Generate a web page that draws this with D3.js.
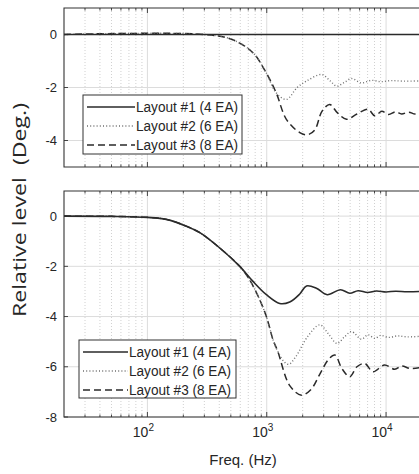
<!DOCTYPE html>
<html>
<head>
<meta charset="utf-8">
<script src="https://cdn.jsdelivr.net/npm/d3@7"></script>
<style>
  html, body { margin: 0; padding: 0; background: #fff; }
  svg { display: block; }
  text { font-family: Arial, "Liberation Sans", sans-serif; fill: #262626; }
</style>
</head>
<body>
<svg id="chart" width="419" height="474"></svg>
<script>
// ---- data ----
const seriesNames = ["Layout #1 (4 EA)", "Layout #2 (6 EA)", "Layout #3 (8 EA)"];
const xTicks = [100, 1000, 10000];
const yTicksTop = [0, -2, -4];
const yTicksBottom = [0, -2, -4, -6, -8];

// upper panel: phase
const topFreq1 = [20, 20000];
const topVal1  = [0, 0];
const topFreq2 = [20, 300, 520, 770, 990, 1200, 1460, 1800, 2150, 2880, 3400, 3850, 4500, 5130, 6220, 7550, 9000, 11000, 14000, 20000];
const topVal2  = [0, 0, -0.2, -0.7, -1.45, -2.2, -2.45, -2.0, -1.76, -1.51, -1.75, -1.95, -1.8, -1.66, -1.83, -1.73, -1.78, -1.74, -1.76, -1.75];
const topFreq3 = [20, 300, 520, 770, 990, 1200, 1460, 1890, 2200, 2530, 2900, 3370, 3900, 4660, 5700, 7060, 8040, 9200, 10500, 12000, 13500, 15500, 17500, 20000];
const topVal3  = [0, 0, -0.2, -0.7, -1.45, -2.2, -3.2, -3.7, -3.78, -3.6, -2.9, -2.64, -2.95, -3.2, -3.0, -2.82, -3.07, -2.9, -3.02, -2.92, -3.0, -2.93, -3.0, -2.95];

// lower panel: level
const botFreq1 = [20, 50, 100, 144, 212, 275, 404, 594, 767, 993, 1285, 1559, 1891, 2153, 2606, 3208, 4150, 4966, 5820, 7000, 8300, 10000, 12000, 15000, 20000];
const botVal1  = [0, -0.01, -0.05, -0.13, -0.4, -0.66, -1.27, -2.0, -2.6, -3.13, -3.48, -3.42, -3.1, -2.78, -2.87, -3.13, -2.93, -3.07, -2.97, -3.04, -2.98, -3.02, -2.99, -3.01, -3.0];
const botFreq2 = [20, 50, 100, 144, 212, 275, 404, 594, 700, 830, 993, 1130, 1240, 1400, 1530, 1750, 2200, 2780, 3300, 3880, 4500, 5130, 6220, 7060, 8040, 9000, 10500, 12500, 15000, 20000];
const botVal2  = [0, -0.01, -0.05, -0.13, -0.4, -0.66, -1.27, -2.0, -2.45, -3.1, -4.0, -4.93, -5.4, -5.8, -5.9, -5.6, -4.8, -4.33, -4.7, -5.07, -4.8, -4.6, -4.9, -4.73, -4.87, -4.75, -4.83, -4.77, -4.81, -4.78];
const botFreq3 = [20, 50, 100, 144, 212, 275, 404, 594, 700, 830, 993, 1130, 1240, 1559, 1954, 2350, 2780, 3300, 3715, 4300, 4966, 5700, 6640, 7780, 9700, 11830, 13500, 16000, 20000];
const botVal3  = [0, -0.01, -0.05, -0.13, -0.4, -0.66, -1.27, -2.0, -2.45, -3.1, -4.0, -4.93, -5.4, -6.75, -7.13, -6.9, -6.3, -5.7, -5.53, -6.1, -6.4, -6.0, -5.87, -6.2, -5.93, -6.1, -5.97, -6.07, -6.02];

// ---- layout ----
const svg = d3.select("#chart");
const W = 419;
const xLeft = 64, xRight = 422;
const x = d3.scaleLog().domain([20, 20000]).range([xLeft, xRight]);

const styles = [
  { stroke: "#2a2a2a", width: 1.6, dash: null },
  { stroke: "#6e6e6e", width: 1.4, dash: "1,2.2" },
  { stroke: "#2a2a2a", width: 1.5, dash: "7,4" }
];

const minorTicks = [];
[10, 100, 1000, 10000].forEach(d => {
  for (let k = 2; k <= 9; k++) { const v = d * k; if (v > 20 && v < 20000) minorTicks.push(v); }
});

svg.append("rect").attr("width", W).attr("height", 474).attr("fill", "#fff");

const clip = svg.append("defs");

function panel(id, top, bottom, yDomain, yTicks, series, legendBox, showX) {
  const y = d3.scaleLinear().domain(yDomain).range([bottom, top]);
  const g = svg.append("g");
  clip.append("clipPath").attr("id", id)
    .append("rect").attr("x", xLeft).attr("y", top).attr("width", xRight - xLeft).attr("height", bottom - top);

  // minor vertical grid (dotted)
  g.selectAll(".minor").data(minorTicks).join("line")
    .attr("x1", d => x(d)).attr("x2", d => x(d)).attr("y1", top).attr("y2", bottom)
    .attr("stroke", "#c4c4c4").attr("stroke-width", 0.8).attr("stroke-dasharray", "1,2");
  // major grid
  g.selectAll(".majx").data(xTicks).join("line")
    .attr("x1", d => x(d)).attr("x2", d => x(d)).attr("y1", top).attr("y2", bottom)
    .attr("stroke", "#dcdcdc").attr("stroke-width", 1);
  g.selectAll(".majy").data(yTicks).join("line")
    .attr("x1", xLeft).attr("x2", xRight).attr("y1", d => y(d)).attr("y2", d => y(d))
    .attr("stroke", "#dcdcdc").attr("stroke-width", 1);

  // inward tick marks on the box
  const tk = g.append("g").attr("stroke", "#333").attr("stroke-width", 0.9);
  xTicks.forEach(d => {
    tk.append("line").attr("x1", x(d)).attr("x2", x(d)).attr("y1", bottom).attr("y2", bottom - 5);
    tk.append("line").attr("x1", x(d)).attr("x2", x(d)).attr("y1", top).attr("y2", top + 5);
  });
  minorTicks.forEach(d => {
    tk.append("line").attr("x1", x(d)).attr("x2", x(d)).attr("y1", bottom).attr("y2", bottom - 2.5);
    tk.append("line").attr("x1", x(d)).attr("x2", x(d)).attr("y1", top).attr("y2", top + 2.5);
  });
  yTicks.forEach(d => {
    tk.append("line").attr("x1", xLeft).attr("x2", xLeft + 4).attr("y1", y(d)).attr("y2", y(d));
  });

  // y tick labels
  g.selectAll(".yl").data(yTicks).join("text")
    .attr("x", 57).attr("y", d => y(d) + 4.5)
    .attr("text-anchor", "end").attr("font-size", 13)
    .text(d => d3.format("d")(d).replace("−", "-"));

  // curves: drawn last-to-first so the solid trace sits on top where they coincide
  const line = d3.line().x(d => x(d[0])).y(d => y(d[1])).curve(d3.curveCatmullRom.alpha(0.5));
  const lines = g.append("g").attr("clip-path", `url(#${id})`);
  series.map((s, i) => ({ s, i })).reverse().forEach(({ s, i }) => {
    const pts = s.f.map((f, j) => [f, s.v[j]]);
    lines.append("path").datum(pts).attr("d", line)
      .attr("fill", "none").attr("stroke", styles[i].stroke)
      .attr("stroke-width", styles[i].width)
      .attr("stroke-dasharray", styles[i].dash);
  });

  // box
  g.append("path")
    .attr("d", `M${xRight},${top}H${xLeft}V${bottom}H${xRight}`)
    .attr("fill", "none").attr("stroke", "#333").attr("stroke-width", 1.1);

  // legend
  const L = legendBox;
  const lg = g.append("g");
  lg.append("rect").attr("x", L.x).attr("y", L.y).attr("width", L.w).attr("height", L.h)
    .attr("fill", "#fff").attr("stroke", "#333").attr("stroke-width", 1);
  seriesNames.forEach((name, i) => {
    const ry = L.y + 12 + i * 19;
    lg.append("line").attr("x1", L.x + 4).attr("x2", L.x + L.sw).attr("y1", ry).attr("y2", ry)
      .attr("stroke", styles[i].stroke).attr("stroke-width", styles[i].width)
      .attr("stroke-dasharray", styles[i].dash);
    lg.append("text").attr("x", L.x + L.sw + 1).attr("y", ry + 5)
      .attr("font-size", 14).attr("textLength", L.tw).attr("lengthAdjust", "spacingAndGlyphs")
      .text(name);
  });

  if (showX) {
    xTicks.forEach(d => {
      const t = g.append("text").attr("x", x(d) - 4).attr("y", bottom + 20)
        .attr("text-anchor", "middle").attr("font-size", 14);
      t.append("tspan").text("10");
      t.append("tspan").attr("dy", -6).attr("font-size", 10).text(Math.round(Math.log10(d)));
    });
  }
  return y;
}

panel("clipTop", 8, 167, [-5, 1], yTicksTop,
  [{ f: topFreq1, v: topVal1 }, { f: topFreq2, v: topVal2 }, { f: topFreq3, v: topVal3 }],
  { x: 83, y: 95, w: 159, h: 59, sw: 52, tw: 102 }, false);

panel("clipBot", 191, 417, [-8, 1], yTicksBottom,
  [{ f: botFreq1, v: botVal1 }, { f: botFreq2, v: botVal2 }, { f: botFreq3, v: botVal3 }],
  { x: 79, y: 340, w: 157, h: 58, sw: 49, tw: 102 }, true);

// axis titles
svg.append("text").attr("x", 243).attr("y", 465).attr("text-anchor", "middle")
  .attr("font-size", 15).text("Freq. (Hz)");
svg.append("text")
  .attr("transform", "translate(26,210) rotate(-90)")
  .attr("text-anchor", "middle")
  .attr("font-size", 18)
  .style("font-family", "'Open Sans', sans-serif")
  .style("white-space", "pre")
  .attr("textLength", 214).attr("lengthAdjust", "spacingAndGlyphs")
  .text("Relative level  (Deg.)");
</script>
</body>
</html>
